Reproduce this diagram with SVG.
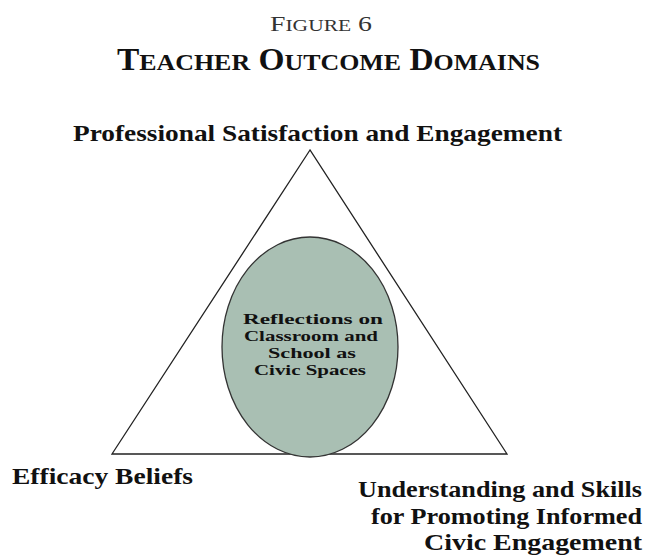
<svg xmlns="http://www.w3.org/2000/svg" width="654" height="556" viewBox="0 0 654 556">
<style>
text{font-family:"Liberation Serif","Times New Roman",serif;fill:#111}
.b{font-weight:bold}
.lbl{font-size:24px;font-weight:bold}
.in{font-size:15.5px;font-weight:bold}
</style>
<rect width="654" height="556" fill="#fff"/>
<g id="title">
<text x="270" y="31" textLength="102" lengthAdjust="spacingAndGlyphs" style="font-size:22px;fill:#333">F<tspan style="font-size:17px">IGURE</tspan> 6</text>
<text x="117" y="70" textLength="423" lengthAdjust="spacingAndGlyphs" class="b" style="font-size:31px">T<tspan style="font-size:24px">EACHER</tspan> O<tspan style="font-size:24px">UTCOME</tspan> D<tspan style="font-size:24px">OMAINS</tspan></text>
</g>
<g id="connectors">
<polygon points="310,150 112,454 507,454" fill="none" stroke="#222" stroke-width="1.3"/>
</g>
<g id="center">
<ellipse cx="310" cy="347" rx="88" ry="110" fill="#a9bfb3" stroke="#333" stroke-width="1.3"/>
<text x="243" y="324" textLength="140" lengthAdjust="spacingAndGlyphs" class="in">Reflections on</text>
<text x="244" y="341" textLength="134" lengthAdjust="spacingAndGlyphs" class="in">Classroom and</text>
<text x="268" y="358" textLength="88" lengthAdjust="spacingAndGlyphs" class="in">School as</text>
<text x="254" y="375" textLength="112" lengthAdjust="spacingAndGlyphs" class="in">Civic Spaces</text>
</g>
<g id="top">
<text x="73" y="141" textLength="489" lengthAdjust="spacingAndGlyphs" class="lbl">Professional Satisfaction and Engagement</text>
</g>
<g id="left">
<text x="12" y="484" textLength="181" lengthAdjust="spacingAndGlyphs" class="lbl">Efficacy Beliefs</text>
</g>
<g id="right">
<text x="358" y="497" textLength="284" lengthAdjust="spacingAndGlyphs" class="lbl">Understanding and Skills</text>
<text x="371" y="524" textLength="271" lengthAdjust="spacingAndGlyphs" class="lbl">for Promoting Informed</text>
<text x="424" y="550" textLength="218" lengthAdjust="spacingAndGlyphs" class="lbl">Civic Engagement</text>
</g>
</svg>
